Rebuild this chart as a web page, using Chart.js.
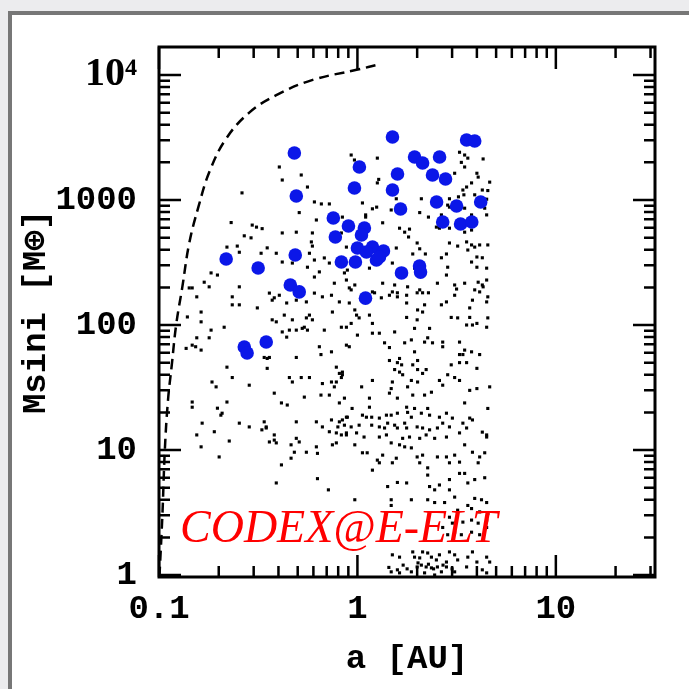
<!DOCTYPE html>
<html>
<head>
<meta charset="utf-8">
<script src="https://cdn.jsdelivr.net/npm/chart.js@4.4.0/dist/chart.umd.min.js"></script>
<style>
    html, body { margin: 0; padding: 0; }
    body { width: 689px; height: 689px; background: #ececee; position: relative; overflow: hidden; }
    #folha { position: absolute; left: 8px; top: 11px; right: 0; bottom: 0; background: #fff;
             border-left: 4px solid #777; border-top: 4px solid #777; }
    #caixa { position: absolute; left: 0; top: 0; width: 689px; height: 689px; }
</style>
</head>
<body>
<div id="folha"></div>
<div id="caixa"><canvas id="grafico" width="689" height="689"></canvas></div>
<script>
// eixos
const ticksA = [0.1, 1, 10];
const ticksM = [1, 10, 100, 1000, 10000];
const limitesA = [0.1, 31.6];
const limitesM = [0.964, 16750];
const rotulo = "CODEX@E-ELT";

// planetas detectaveis (pontos azuis): [a (AU), Msini (M terra)]
const planetasCodex = [
    [0.481, 2377], [0.492, 1076], [0.218, 337], [0.316, 286], [0.486, 363], [0.459, 209], [0.509, 184],
    [0.269, 66.7], [0.278, 59.7], [0.347, 73.1], [0.756, 718], [0.774, 506], [0.901, 619], [1.084, 597],
    [1.048, 525], [1.0, 413], [1.191, 421], [1.11, 384], [1.353, 391], [0.83, 319], [0.977, 319],
    [1.247, 331], [1.291, 350], [1.023, 1837], [0.966, 1247], [1.502, 3192], [1.592, 1614], [1.502, 1202],
    [1.649, 847], [1.941, 2208], [2.13, 1977], [2.594, 2208], [2.39, 1585], [2.78, 1472], [2.506, 964],
    [2.69, 667], [3.16, 895], [3.31, 643], [3.77, 667], [3.55, 3020], [3.9, 2965], [4.18, 964],
    [1.668, 261], [2.056, 296], [2.08, 265], [1.098, 164]
];

// planetas simulados (pontos pretos)
const pontosRV = [
    [0.97, 209], [0.93, 191], [1.34, 216], [1.79, 202], [2.06, 191], [2.0, 181], [2.53, 216], [3.09, 209], [3.16, 194], [3.47, 216], [4.26, 209], [4.13, 184], [4.54, 168],
    [0.91, 150], [0.97, 132], [0.99, 120], [1.22, 181], [1.32, 165], [1.45, 173], [1.59, 168], [1.77, 173], [1.77, 150], [2.18, 145], [2.13, 127], [2.01, 132], [2.65, 145], [2.81, 153], [2.97, 115], [3.2, 114], [3.68, 137], [3.68, 115], [4.0, 103], [3.55, 100], [3.8, 100], [4.48, 96], [4.54, 114], [4.48, 153], [3.8, 158],
    [0.88, 96], [0.93, 103], [1.02, 114], [1.15, 120], [1.19, 103], [1.19, 86], [1.29, 86], [1.0, 83], [1.54, 88], [1.77, 115], [2.0, 110], [1.94, 94], [2.31, 94], [2.26, 79], [2.18, 73], [2.39, 72], [2.69, 73], [2.69, 67], [1.87, 76], [1.73, 72], [1.37, 72], [1.45, 66], [0.91, 67],
    [3.27, 73], [3.47, 63], [3.4, 58], [3.27, 58], [3.76, 61], [4.13, 58], [3.55, 50], [3.27, 50], [4.0, 45], [2.97, 48], [2.85, 40], [3.09, 38], [3.27, 36], [2.59, 36], [2.22, 44], [2.13, 41], [2.01, 44], [1.9, 48], [2.01, 52], [1.94, 61], [1.63, 54], [1.59, 50], [1.45, 52], [1.67, 48], [1.54, 44], [1.63, 42], [1.69, 40], [1.87, 36], [2.01, 35], [1.79, 32], [1.5, 35], [1.48, 31], [1.45, 28.5], [1.59, 26], [1.9, 27.5], [2.18, 27.5], [2.36, 29], [2.69, 33], [3.68, 30], [4.0, 31], [4.64, 32], [4.54, 21.5], [3.47, 23.8],
    [0.84, 42], [0.84, 40], [1.19, 36], [1.05, 32], [0.86, 26], [1.15, 26], [1.15, 22], [0.94, 21.5], [0.88, 18.3], [1.06, 19], [1.11, 18.3], [1.18, 18.3], [1.29, 18], [1.4, 19], [1.48, 19], [1.59, 19.7], [1.77, 22], [1.79, 20], [1.87, 18.3], [1.94, 21.5], [2.1, 19.7], [2.26, 21.5], [2.31, 19], [2.59, 18.3], [2.81, 19.7], [3.01, 18], [3.68, 18], [3.8, 17.4], [3.4, 16.4], [3.27, 13.7], [3.55, 15], [4.26, 13.9], [4.48, 13.2],
    [0.84, 17.4], [0.93, 15.3], [1.02, 15.8], [1.18, 15.8], [1.29, 15.3], [1.37, 15], [1.42, 16.4], [1.54, 15.8], [1.59, 15], [1.73, 16.4], [1.77, 15], [1.83, 12.7], [2.0, 15.3], [2.13, 15], [2.31, 14.5], [2.53, 15], [2.69, 16.4], [2.91, 15.3], [1.4, 13.2], [1.29, 12.7], [1.08, 12.7], [0.99, 13.7], [0.88, 13.7], [1.69, 12.4], [2.06, 12.4], [2.22, 13.2], [2.45, 12.4], [2.81, 12.7],
    [0.97, 11.0], [1.06, 9.5], [1.12, 9.5], [1.34, 9.1], [1.26, 8.3], [1.29, 7.9], [1.19, 6.9], [1.5, 7.9], [1.57, 8.6], [1.48, 11.4], [1.63, 11.0], [1.73, 10.6], [1.87, 10.4], [2.0, 8.8], [2.13, 9.1], [2.06, 7.9], [2.26, 7.2], [2.26, 6.3], [2.53, 8.8], [2.81, 8.8], [3.09, 9.1], [2.91, 7.9], [3.27, 8.0], [3.47, 11.0], [3.8, 9.6], [4.13, 8.8], [4.06, 7.9], [4.38, 9.5], [4.48, 12.7],
    [3.27, 6.5], [3.47, 6.5], [3.6, 5.45], [3.9, 5.8], [4.38, 6.0], [2.91, 5.8], [2.59, 5.25], [2.31, 5.1], [2.45, 4.8], [2.91, 4.8], [1.59, 5.5], [1.77, 5.45], [1.42, 5.1], [1.48, 4.0], [1.48, 3.6], [0.97, 4.0], [1.87, 4.0], [2.26, 4.0], [2.45, 3.8], [2.75, 3.8], [3.09, 4.2], [3.9, 4.1], [4.22, 4.0], [4.48, 3.8], [3.6, 3.6], [3.2, 3.3], [3.76, 3.4], [4.13, 3.2], [4.54, 3.1], [2.91, 2.9], [3.01, 2.6], [3.4, 2.65], [3.76, 2.75], [4.06, 2.6], [4.48, 2.75], [2.69, 2.4], [2.85, 2.1], [3.09, 2.2], [3.34, 2.1], [3.76, 2.2], [4.13, 2.1], [4.48, 2.4],
    [1.5, 1.45], [1.63, 1.39], [1.9, 1.53], [1.94, 1.39], [2.06, 1.37], [2.13, 1.53], [2.26, 1.5], [2.36, 1.39], [2.5, 1.32], [2.59, 1.45], [2.81, 1.27], [2.91, 1.53], [3.09, 1.45], [3.2, 1.32], [3.6, 1.39], [3.8, 1.53], [4.0, 1.27], [4.48, 1.39], [4.64, 1.27], [2.0, 1.16], [2.1, 1.2], [2.22, 1.16], [2.36, 1.14], [2.53, 1.16], [2.65, 1.06], [2.81, 1.16], [1.48, 1.06], [1.59, 1.1], [1.63, 1.04], [1.87, 1.06], [2.18, 1.04], [2.45, 1.0], [3.09, 1.06], [3.55, 1.16], [4.26, 1.1], [4.48, 1.04],
    [1.44, 1.15], [1.7, 1.2], [1.78, 1.12], [2.02, 1.25], [2.28, 1.22], [2.42, 1.12], [2.7, 1.2], [3.0, 1.12],
    [0.269, 517], [0.291, 498], [0.418, 545], [0.492, 553], [0.586, 462], [0.593, 428], [0.22, 420], [0.248, 428], [0.254, 382], [0.327, 375], [0.351, 414], [0.39, 375], [0.418, 319], [0.47, 313], [0.573, 375], [0.607, 331], [0.681, 344], [0.722, 313], [0.88, 420], [0.643, 266], [0.607, 242], [0.56, 290], [0.765, 216], [0.88, 229],
    [0.183, 261], [0.197, 251], [0.169, 220], [0.179, 202], [0.142, 198], [0.147, 198], [0.155, 168], [0.139, 116], [0.163, 106], [0.163, 127], [0.254, 202], [0.234, 168], [0.234, 145], [0.254, 145], [0.313, 137], [0.36, 180], [0.381, 165], [0.372, 158], [0.404, 173], [0.44, 150], [0.492, 158], [0.553, 153], [0.607, 180], [0.666, 168], [0.74, 173], [0.811, 153], [0.748, 127], [0.428, 120], [0.47, 110], [0.553, 114], [0.573, 120], [0.593, 110], [0.372, 110], [0.39, 106],
    [0.183, 91], [0.213, 96], [0.179, 79], [0.155, 79], [0.147, 69], [0.153, 67], [0.163, 63], [0.137, 65], [0.418, 88], [0.454, 91], [0.492, 91], [0.44, 80], [0.527, 94], [0.54, 96], [0.56, 91], [0.681, 91], [0.83, 96], [0.339, 55], [0.351, 54], [0.36, 55], [0.492, 55], [0.351, 45], [0.643, 67], [0.655, 58], [0.74, 61], [0.783, 46], [0.88, 69], [0.22, 46], [0.234, 38], [0.185, 35], [0.194, 32], [0.285, 33], [0.454, 38], [0.521, 38], [0.573, 38], [0.47, 35], [0.666, 34], [0.74, 35], [0.783, 35], [0.765, 32], [0.83, 38], [0.811, 41],
    [0.381, 28.5], [0.54, 26.5], [0.655, 27.5], [0.722, 27.5], [0.811, 23.8], [0.147, 24.2], [0.147, 22], [0.197, 21.6], [0.22, 24.2], [0.208, 19.7], [0.205, 19], [0.414, 23.8], [0.443, 22.9], [0.165, 16.4], [0.254, 16.4], [0.285, 15.3], [0.339, 16.8], [0.347, 15.3], [0.492, 16.8], [0.621, 16.8], [0.666, 15.3], [0.74, 17.4], [0.811, 16.8], [0.797, 15.3], [0.86, 15.8], [0.89, 18.3],
    [0.19, 14], [0.155, 13.2], [0.226, 11.8], [0.163, 10.6], [0.201, 8.8], [0.33, 14.5], [0.347, 15], [0.381, 13.2], [0.381, 12], [0.36, 11.6], [0.39, 11.4], [0.492, 12.4], [0.509, 11.6], [0.463, 11], [0.481, 9.6], [0.553, 9.6], [0.463, 8.6], [0.414, 7.6], [0.621, 10.6], [0.629, 9.4], [0.748, 11], [0.783, 11.4], [0.783, 13.7], [0.83, 13.2], [0.88, 13.2], [0.39, 5.45], [0.629, 5.9], [0.714, 4.8], [0.722, 14],
    [0.93, 2290], [0.966, 2089], [1.26, 2163], [0.404, 1837], [0.521, 1585], [0.418, 1445], [0.56, 1270], [0.262, 1140], [0.607, 965], [0.658, 930], [0.722, 930], [1.06, 947], [0.509, 793], [0.621, 692], [1.1, 760], [1.25, 877], [1.26, 1370], [0.231, 660], [0.295, 630], [0.31, 607], [0.331, 590], [0.593, 545],
    [1.28, 1462], [1.57, 1023], [1.48, 832], [1.19, 850], [1.1, 730], [1.34, 657], [1.63, 595], [1.73, 553], [1.83, 585], [1.81, 506], [2.0, 453], [1.9, 370], [2.06, 407], [2.2, 370], [2.1, 1023], [2.28, 730], [2.06, 793], [2.91, 1023], [2.85, 910], [2.65, 760], [2.5, 607], [2.59, 595], [2.91, 453], [2.65, 345], [2.81, 370],
    [3.09, 1637], [3.27, 2410], [3.47, 2290], [3.34, 2000], [3.47, 1837], [3.6, 2163], [4.3, 2130], [4.0, 1637], [4.06, 1525], [4.64, 1390], [3.76, 1370], [3.55, 1270], [3.4, 1202], [3.44, 1100], [3.23, 1060], [3.9, 1100], [4.26, 1202], [4.54, 1190], [4.48, 1015], [3.47, 860], [2.91, 877], [3.76, 760], [4.38, 860], [4.48, 760],
    [2.91, 595], [3.47, 553], [3.76, 575], [3.55, 462], [3.76, 437], [3.9, 420], [3.6, 398], [3.2, 428], [4.13, 437], [4.54, 437], [4.0, 350], [3.76, 319], [4.0, 290], [4.48, 285], [4.26, 345], [2.85, 290], [2.81, 251], [4.06, 220], [4.3, 202], [4.48, 229], [3.09, 173], [3.9, 191],
    [0.89, 275], [0.91, 198], [1.19, 184], [1.54, 209], [1.5, 184], [1.59, 181], [2.13, 181], [2.28, 181], [1.15, 285], [1.57, 413], [1.5, 313], [1.94, 285], [0.86, 261], [0.83, 545], [0.84, 730]
];

// limite de deteccao (tracejado)
const curvaA = [0.1005, 0.104, 0.107, 0.111, 0.116, 0.122, 0.131, 0.142, 0.158, 0.18, 0.218, 0.285, 0.39, 0.59, 0.99, 1.3];
const curvaM = [0.97, 3, 10, 25, 48, 100, 200, 450, 880, 1700, 3100, 5000, 6900, 9100, 11000, 12200];

const fonteEixo = { family: "'Liberation Mono', monospace", size: 34, weight: "bold" };
const fonteExp = { family: "'Liberation Serif', serif", size: 40, weight: "bold" };

function etiqueta(v) {
    if (v >= 10000) return "10\u2074";
    return String(v);
}

function marcasLog(min, max) {
    const lista = [];
    for (let d = Math.floor(Math.log10(min)); d <= Math.ceil(Math.log10(max)); d++) {
        for (let m = 1; m <= 9; m++) {
            const v = m * Math.pow(10, d);
            if (v >= min * 0.999 && v <= max * 1.001) lista.push({ v, maior: m === 1 });
        }
    }
    return lista;
}

// moldura com marcas para dentro nos quatro lados
const moldura = {
    id: "moldura",
    afterDatasetsDraw(chart) {
        const { ctx, chartArea: a, scales: { x, y } } = chart;
        ctx.save();
        ctx.strokeStyle = "#000";
        ctx.lineWidth = 2.5;
        ctx.beginPath();
        marcasLog(x.min, x.max).forEach(t => {
            const px = x.getPixelForValue(t.v);
            const L = t.maior ? 22 : 11;
            ctx.moveTo(px, a.top); ctx.lineTo(px, a.top + L);
            ctx.moveTo(px, a.bottom); ctx.lineTo(px, a.bottom - L);
        });
        marcasLog(y.min, y.max).forEach(t => {
            const py = y.getPixelForValue(t.v);
            const L = t.maior ? 22 : 11;
            ctx.moveTo(a.left, py); ctx.lineTo(a.left + L, py);
            ctx.moveTo(a.right, py); ctx.lineTo(a.right - L, py);
        });
        ctx.stroke();
        ctx.lineWidth = 3;
        ctx.strokeRect(a.left, a.top, a.right - a.left, a.bottom - a.top);

        ctx.font = "italic 46px 'Liberation Serif'";
        ctx.fillStyle = "#ff0000";
        ctx.textBaseline = "alphabetic";
        ctx.fillText(rotulo, a.left + 21, a.bottom - 35);
        ctx.restore();
    }
};

new Chart(document.getElementById("grafico"), {
    type: "scatter",
    data: {
        datasets: [
            {
                data: planetasCodex.map(p => ({ x: p[0], y: p[1] })),
                pointRadius: 6.8,
                pointStyle: "circle",
                backgroundColor: "#0b17e8",
                borderColor: "#0b17e8",
                borderWidth: 0
            },
            {
                type: "line",
                data: curvaA.map((a, i) => ({ x: a, y: curvaM[i] })),
                borderColor: "#000",
                borderWidth: 2.5,
                borderDash: [10, 6],
                pointRadius: 0,
                tension: 0.4,
                fill: false
            },
            {
                data: pontosRV.map(p => ({ x: p[0], y: p[1] })),
                pointRadius: 2.2,
                pointStyle: "rect",
                backgroundColor: "#000",
                borderWidth: 0
            }
        ]
    },
    options: {
        responsive: false,
        animation: false,
        devicePixelRatio: 1,
        events: [],
        layout: { padding: { top: 47, right: 34, left: 0, bottom: 0 } },
        plugins: { legend: { display: false }, tooltip: { enabled: false } },
        scales: {
            x: {
                type: "logarithmic",
                min: limitesA[0], max: limitesA[1],
                grid: { display: false, drawTicks: false },
                border: { display: false },
                afterBuildTicks: s => { s.ticks = ticksA.map(v => ({ value: v })); },
                afterFit: s => { s.height = 112; },
                ticks: { autoSkip: false, maxRotation: 0, color: "#000", padding: 12, font: fonteEixo, callback: v => etiqueta(v) },
                title: { display: true, text: "a [AU]", color: "#000", font: fonteEixo, padding: { top: 9, bottom: 9 } }
            },
            y: {
                type: "logarithmic",
                min: limitesM[0], max: limitesM[1],
                grid: { display: false, drawTicks: false },
                border: { display: false },
                afterBuildTicks: s => { s.ticks = ticksM.map(v => ({ value: v })); },
                afterFit: s => { s.width = 159; },
                ticks: {
                    autoSkip: false, color: "#000", padding: 22,
                    font: c => (c.tick && c.tick.value >= 10000 ? fonteExp : fonteEixo),
                    callback: v => etiqueta(v)
                },
                title: { display: true, text: "Msini [M\u2295]", color: "#000", font: fonteEixo, padding: { top: 16, bottom: 0 } }
            }
        }
    },
    plugins: [moldura]
});
</script>
</body>
</html>
